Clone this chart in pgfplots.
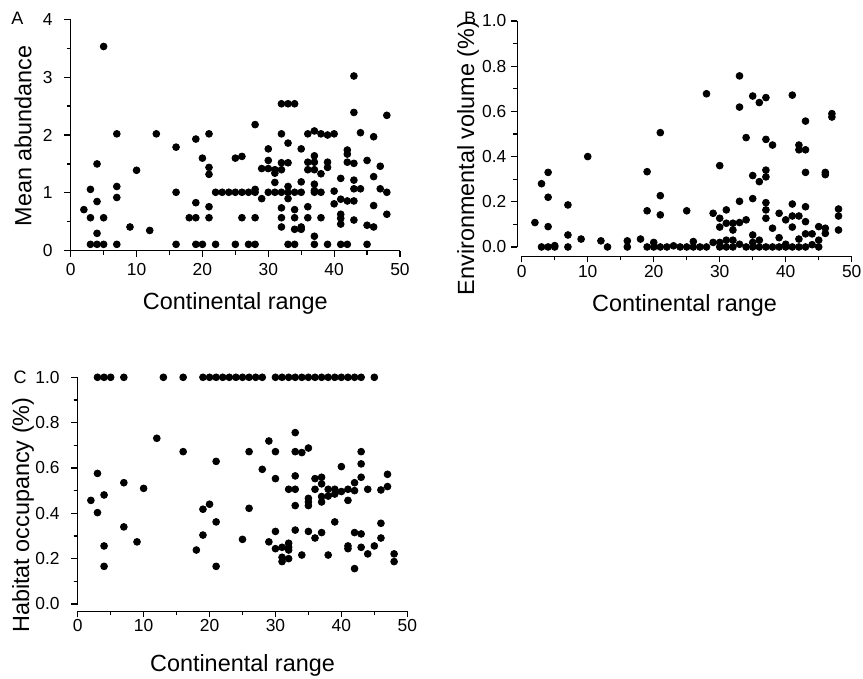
\documentclass[border=0pt]{standalone}
\usepackage{fontspec}
\setmainfont{Liberation Sans}
\usepackage{pgfplots}
\pgfplotsset{compat=1.18}
\pgfplotsset{
  panel/.style={
    scale only axis,
    axis x line*=bottom, axis y line*=left,
    x axis line style={-}, y axis line style={-},
    every axis line/.append style={line width=0.6pt},
    tick align=outside,
    major tick length=3.2pt, minor tick length=2pt,
    every tick/.style={black, line width=0.6pt},
    xmax=50, xtick={0,10,...,50}, minor xtick={5,15,...,45},
    tick label style={font=\fontsize{8.7pt}{10pt}\selectfont, inner sep=0pt},
    /pgf/number format/assume math mode=true,
    label style={font=\fontsize{11.7pt}{14pt}\selectfont},
    xticklabel style={anchor=north},
    yticklabel style={anchor=east},
    xlabel={Continental range},
  },
  dots/.style={only marks, mark=*, mark size=1.7pt, black, mark options={fill=black, draw=black}},
}
\begin{document}
\begin{tikzpicture}
\path[use as bounding box] (0,0) rectangle (431.5pt,-339.5pt);
% ---------------- Panel A ----------------
\begin{axis}[panel,
  at={(35.35pt,-125.35pt)}, anchor=south west,
  width=164.65pt, height=115.7pt,
  xmin=0, ymin=0, ymax=4,
  ytick={0,1,2,3,4}, minor ytick={0.5,1.5,2.5,3.5},
  xticklabel shift=2.8pt, yticklabel shift=5.65pt,
  ylabel={Mean abundance},
  xlabel style={at={(axis description cs:0.5,0)}, anchor=base, yshift=-29.6pt},
  ylabel style={at={(axis description cs:-0.145,0.496)}, anchor=center},
]
\addplot[dots] coordinates {
(2,0.71)
(3,1.06)(3,0.57)(3,0.11)
(4,1.50)(4,0.85)(4,0.30)(4,0.11)
(5,3.53)(5,0.57)(5,0.11)
(7,2.02)(7,1.11)(7,0.92)(7,0.11)
(9,0.41)(10,1.39)(12,0.35)(13,2.02)
(16,1.79)(16,1.01)(16,0.11)
(18,0.57)
(19,1.93)(19,0.83)(19,0.57)(19,0.11)
(20,1.60)(20,0.11)
(21,2.02)(21,1.44)(21,1.32)(21,0.76)(21,0.57)
(22,1.01)(22,0.11)
(23,1.01)(24,1.01)(25,1.01)(26,1.01)(27,1.01)(28,1.01)
(25,1.60)(26,1.63)(26,0.57)
(25,0.11)(27,0.11)(28,0.11)
(28,2.18)(28,1.06)(28,0.57)
(29,0.90)(29,1.42)
(30,1.42)(30,1.76)(30,1.56)(30,1.01)
(31,1.34)(31,1.18)(31,1.01)(31,1.40)
(32,1.40)(32,2.02)(32,2.54)(32,1.52)(32,1.01)(32,0.74)(32,0.57)(32,0.41)
(33,2.54)(33,1.52)(33,1.86)(33,1.11)(33,0.90)(33,1.01)(33,0.11)
(34,2.54)(34,4.02)(34,1.01)(34,0.71)(34,0.57)(34,0.37)(34,0.11)
(35,0.37)(35,0.41)(35,1.76)(35,1.19)(35,1.01)
(36,2.02)(36,1.53)(36,1.40)(36,0.76)(36,0.57)
(37,2.07)(37,1.64)(37,1.53)(37,1.40)(37,1.15)(37,1.04)(37,1.01)(37,0.25)(37,0.11)
(38,2.02)(38,1.33)(38,1.01)(38,0.57)
(39,2.00)(39,1.53)(39,1.44)(39,0.11)
(40,2.02)(40,1.03)(40,0.81)
(41,1.25)(41,0.89)(41,0.63)(41,0.56)(41,0.46)(41,0.11)
(42,1.74)(42,1.67)(42,1.53)(42,0.86)(42,0.11)
(43,3.02)(43,2.39)(43,1.51)(43,1.22)(43,1.07)(43,0.86)(43,0.53)
(44,2.04)(44,1.07)
(45,1.56)(45,0.44)(45,0.11)
(46,1.97)(46,1.28)(46,0.78)(46,0.41)
(47,1.46)(47,1.07)
(48,2.34)(48,1.01)(48,0.63)
};
\end{axis}
% ---------------- Panel B ----------------
\begin{axis}[panel,
  at={(258.65pt,-128pt)}, anchor=south west,
  width=167.2pt, height=117.5pt,
  xmin=-0.67, ymin=-0.04, ymax=1.0,
  x axis line style={-, shorten <=2.2pt},
  y axis line style={-, shorten <=4.3pt},
  ytick={0,0.2,...,1.0}, minor ytick={0.1,0.3,...,0.9},
  yticklabel style={/pgf/number format/.cd, fixed, fixed zerofill, precision=1},
  xticklabel shift=1.2pt, yticklabel shift=2.1pt,
  ylabel={Environmental volume (\%)},
  xlabel style={at={(axis description cs:0.5,0)}, anchor=base, yshift=-27.5pt},
  ylabel style={at={(axis description cs:-0.147,0.417)}, anchor=center},
]
\addplot[dots] coordinates {
(2,0.108)
(3,0.28)(3,0.0)
(4,0.33)(4,0.22)(4,0.09)(4,0.0)
(5,0.0)(5,0.006)
(7,0.186)(7,0.053)(7,0.0)
(9,0.035)(10,0.40)(12,0.027)(13,0.0)
(16,0.027)(16,0.0)
(18,0.035)
(19,0.333)(19,0.16)(19,0.0)
(20,0.02)(20,0.0)
(21,0.506)(21,0.227)(21,0.142)(21,0.0)
(22,0.0)(23,0.005)(24,0.0)
(25,0.16)(25,0.0)
(26,0.024)(26,0.0)(27,0.0)(28,0.0)
(28,0.678)
(29,0.149)(29,0.02)
(30,0.36)(30,0.127)(30,0.088)(30,0.02)(30,0.0)
(31,0.164)(31,0.105)(31,0.03)(31,0.0)
(32,0.105)(32,0.075)(32,0.03)(32,0.0)
(33,0.757)(33,0.619)(33,0.202)(33,0.108)(33,0.012)
(34,0.12)(34,0.484)(34,0.0)
(35,0.668)(35,0.316)(35,0.214)(35,0.053)(35,0.02)(35,0.0)
(36,0.639)(36,0.289)(36,0.03)(36,0.0)
(37,0.661)(37,0.476)(37,0.34)(37,0.31)(37,0.196)(37,0.164)(37,0.127)(37,0.0)
(38,0.451)(38,0.083)(38,0.0)
(39,0.149)(39,0.041)(39,0.0)
(40,0.12)(40,0.012)(40,0.0)
(41,0.672)(41,0.19)(41,0.137)(41,0.088)(41,0.0)
(42,0.451)(42,0.43)(42,0.137)(42,0.035)(42,0.0)
(43,0.557)(43,0.43)(43,0.33)(43,0.178)(43,0.112)(43,0.058)(43,0.0)
(44,0.058)(44,0.01)
(45,0.09)(45,0.03)(45,0.0)
(46,0.33)(46,0.32)(46,0.083)(46,0.06)
(47,0.59)(47,0.575)
(48,0.168)(48,0.137)(48,0.075)
};
\end{axis}
% ---------------- Panel C ----------------
\begin{axis}[panel,
  at={(38.85pt,-305.5pt)}, anchor=south west,
  width=164.8pt, height=116.85pt,
  xmin=0, ymin=-0.031, ymax=1.0,
  y axis line style={-, shorten <=3.5pt},
  ytick={0,0.2,...,1.0}, minor ytick={0.1,0.3,...,0.9},
  yticklabel style={/pgf/number format/.cd, fixed, fixed zerofill, precision=1},
  xticklabel shift=0.8pt, yticklabel shift=5.65pt,
  ylabel={Habitat occupancy (\%)},
  xlabel style={at={(axis description cs:0.5,0)}, anchor=base, yshift=-30pt},
  ylabel style={at={(axis description cs:-0.166,0.41)}, anchor=center},
]
\addplot[dots] coordinates {
(3,1)(4,1)(5,1)(7,1)(13,1)(16,1)
(19,1)(20,1)(21,1)(22,1)(23,1)(24,1)(25,1)(26,1)(27,1)(28,1)
(30,1)(31,1)(32,1)(33,1)(34,1)(35,1)(36,1)(37,1)(38,1)(39,1)(40,1)(41,1)(42,1)(43,1)
(45,1)
(2,0.457)
(3,0.576)(3,0.403)
(4,0.481)(4,0.256)(4,0.166)
(7,0.535)(7,0.34)
(9,0.274)(10,0.51)(12,0.731)(16,0.672)(18,0.238)
(19,0.418)(19,0.304)
(20,0.44)
(21,0.629)(21,0.362)(21,0.166)
(25,0.285)
(26,0.672)(26,0.422)
(28,0.594)
(29,0.719)(29,0.274)
(30,0.672)(30,0.553)(30,0.32)(30,0.244)
(31,0.25)(31,0.206)(31,0.187)
(32,0.506)(32,0.268)(32,0.25)(32,0.238)(32,0.2)
(33,0.756)(33,0.672)(33,0.565)(33,0.506)(33,0.434)(33,0.326)
(34,0.668)(34,0.216)
(35,0.688)(35,0.466)(35,0.45)(35,0.434)(35,0.32)
(36,0.553)(36,0.506)(36,0.291)
(37,0.559)(37,0.53)(37,0.474)(37,0.45)(37,0.315)
(38,0.506)(38,0.476)(38,0.216)
(39,0.506)(39,0.485)(39,0.362)
(40,0.606)(40,0.496)
(41,0.506)(41,0.457)(41,0.256)(41,0.244)
(42,0.535)(42,0.5)(42,0.315)(42,0.156)
(43,0.672)(43,0.618)(43,0.559)(43,0.309)(43,0.25)
(44,0.506)(44,0.221)
(45,0.256)
(46,0.503)(46,0.356)(46,0.291)
(47,0.572)(47,0.518)
(48,0.221)(48,0.187)
};
\end{axis}
% panel letters
\node[font=\fontsize{9pt}{10pt}\selectfont] at (8.75pt,-9.25pt) {A};
\node[font=\fontsize{9pt}{10pt}\selectfont] at (235pt,-9.25pt) {B};
\node[font=\fontsize{9pt}{10pt}\selectfont] at (10pt,-188.5pt) {C};
\end{tikzpicture}
\end{document}
